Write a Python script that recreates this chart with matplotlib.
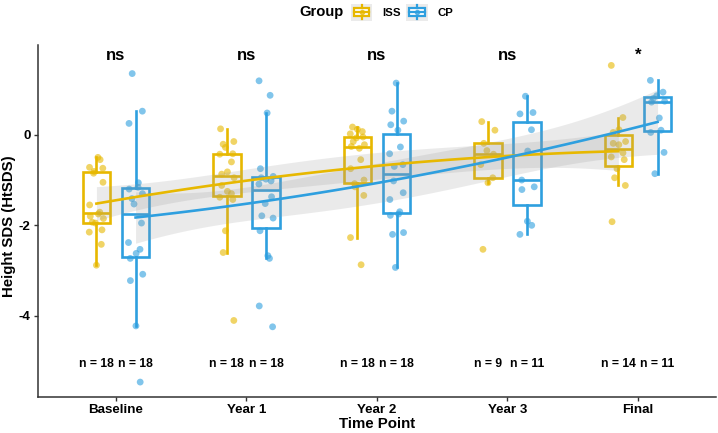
import numpy as np
import matplotlib
matplotlib.use('Agg')
import matplotlib.pyplot as plt
from matplotlib.patches import Rectangle
from matplotlib.lines import Line2D
from matplotlib.legend_handler import HandlerBase

plt.rcParams['font.family'] = ['Liberation Sans', 'DejaVu Sans']

# ---------------- data ----------------
time_points = ['Baseline', 'Year 1', 'Year 2', 'Year 3', 'Final']
groups = ['ISS', 'CP']
group_colors = ['#E7B800', '#2E9FDF']

iss_baseline = [-2.88, -2.42, -2.15, -2.10, -1.95, -1.93, -1.85, -1.80, -1.75, -1.71, -1.55, -1.05, -0.85, -0.81, -0.74, -0.72, -0.55, -0.50]
iss_year1 = [-4.10, -2.60, -2.12, -1.43, -1.38, -1.30, -1.25, -1.12, -0.95, -0.87, -0.82, -0.60, -0.43, -0.42, -0.28, -0.21, -0.15, 0.13]
iss_year2 = [-2.87, -2.27, -1.34, -1.15, -1.08, -1.00, -0.75, -0.55, -0.30, -0.26, -0.22, -0.15, -0.07, -0.05, 0.02, 0.07, 0.12, 0.17]
iss_year3 = [-2.53, -1.06, -0.95, -0.66, -0.43, -0.35, -0.19, 0.10, 0.29]
iss_final = [-1.92, -1.12, -0.95, -0.75, -0.55, -0.49, -0.40, -0.22, -0.19, -0.15, 0.05, 0.11, 0.38, 1.53]

cp_baseline = [-5.46, -4.22, -3.22, -3.08, -2.73, -2.62, -2.53, -2.38, -1.95, -1.53, -1.41, -1.30, -1.20, -1.16, -1.06, 0.25, 0.52, 1.35]
cp_year1 = [-4.24, -3.78, -2.73, -2.67, -2.12, -1.84, -1.79, -1.52, -1.37, -1.09, -1.02, -0.98, -0.95, -0.92, -0.75, 0.48, 0.87, 1.19]
cp_year2 = [-2.93, -2.20, -2.16, -1.78, -1.75, -1.70, -1.43, -1.28, -1.02, -0.70, -0.66, -0.42, -0.27, 0.10, 0.22, 0.30, 0.52, 1.14]
cp_year3 = [-2.20, -2.00, -1.91, -1.21, -1.15, -1.00, -0.36, 0.11, 0.46, 0.49, 0.85]
cp_final = [-0.86, -0.39, 0.05, 0.10, 0.37, 0.72, 0.74, 0.80, 0.86, 0.94, 1.20]

sig_labels = ['ns', 'ns', 'ns', 'ns', '*']
y_ticks = [0, -2, -4]

group_data = {
    'ISS': [iss_baseline, iss_year1, iss_year2, iss_year3, iss_final],
    'CP': [cp_baseline, cp_year1, cp_year2, cp_year3, cp_final],
}

# ---------------- helpers ----------------
def quad_smooth(x, y, xe, tcrit=1.99):
    x = np.asarray(x, float); y = np.asarray(y, float)
    X = np.column_stack([np.ones_like(x), x, x ** 2])
    XtX_inv = np.linalg.inv(X.T @ X)
    beta = XtX_inv @ X.T @ y
    resid = y - X @ beta
    s = np.sqrt(np.sum(resid ** 2) / (len(x) - 3))
    Xe = np.column_stack([np.ones_like(xe), xe, xe ** 2])
    fit = Xe @ beta
    se = s * np.sqrt(np.einsum('ij,jk,ik->i', Xe, XtX_inv, Xe))
    return fit, fit - tcrit * se, fit + tcrit * se


class BoxKey(HandlerBase):
    def create_artists(self, legend, orig, xd, yd, w, h, fontsize, trans):
        c = orig.get_color()
        x0, y0 = -xd, -yd
        arts = [Rectangle((x0, y0), w, h, facecolor='#EBEBEB', edgecolor='none', transform=trans)]
        bw, bh = w * 0.72, h * 0.5
        bx, by = x0 + (w - bw) / 2, y0 + (h - bh) / 2
        arts.append(Rectangle((bx, by), bw, bh, facecolor='white', edgecolor=c, lw=1.6, transform=trans))
        cx, cy = x0 + w / 2, y0 + h / 2
        arts.append(Line2D([bx, bx + bw], [cy, cy], color=c, lw=1.6, transform=trans))
        arts.append(Line2D([cx, cx], [y0 + h * 0.08, by], color=c, lw=1.6, transform=trans))
        arts.append(Line2D([cx, cx], [by + bh, y0 + h * 0.92], color=c, lw=1.6, transform=trans))
        arts.append(Line2D([cx], [cy], marker='o', ms=3, color=c, alpha=0.7, lw=0, transform=trans))
        return arts

# ---------------- figure ----------------
fig = plt.figure(figsize=(7.18, 4.33), dpi=100)
ax = fig.add_axes([0.0525, 0.0831, 0.9451, 0.8129])

dodge = 0.15
box_w = 0.21
xpos = np.arange(1, len(time_points) + 1)

for gi, (g, col) in enumerate(zip(groups, group_colors)):
    off = -dodge if gi == 0 else dodge
    data = group_data[g]
    pos = xpos + off
    ax.boxplot(data, positions=pos, widths=box_w, whis=1.5, showfliers=False,
               showcaps=False, patch_artist=True, manage_ticks=False,
               boxprops=dict(facecolor='white', edgecolor=col, linewidth=1.9),
               medianprops=dict(color=col, linewidth=1.9),
               whiskerprops=dict(color=col, linewidth=1.9), zorder=2)
    allx, ally = [], []
    for k, (p, vals) in enumerate(zip(pos, data)):
        n = len(vals)
        jit = 0.055 * np.sin(np.arange(n) * 2.39 + k * 1.3 + gi * 0.7)
        ax.scatter(p + jit, vals, s=24, color=col, alpha=0.6, edgecolors='none', zorder=3)
        allx += [p] * n
        ally += list(vals)
        ax.text(p, -5.07, f'n = {n}', ha='center', va='center', fontsize=8.7,
                fontweight='bold', color='black', zorder=5)
    allx = np.array(allx); ally = np.array(ally)
    xe = np.linspace(allx.min(), allx.max(), 80)
    fit, lo, hi = quad_smooth(allx, ally, xe)
    ax.fill_between(xe, lo, hi, color='#999999', alpha=0.2, linewidth=0, zorder=4)
    ax.plot(xe, fit, color=col, lw=1.9, zorder=4.5)

for x, lab in zip(xpos, sig_labels):
    ax.text(x, 1.645, lab, ha='center', va='baseline', fontsize=12, fontweight='bold',
            color='black', zorder=5)

ax.set_xlim(0.4, 5.6)
ax.set_ylim(-5.79, 1.98)
ax.set_xticks(xpos)
ax.set_xticklabels(time_points)
ax.set_yticks(y_ticks)
ax.set_yticklabels([str(t) for t in y_ticks])
for lab in ax.get_xticklabels() + ax.get_yticklabels():
    lab.set_fontweight('bold')
    lab.set_fontsize(9.6)
    lab.set_color('black')
ax.tick_params(axis='both', length=3, width=1, color='#333333', pad=2)
for s in ['top', 'right']:
    ax.spines[s].set_visible(False)
for s in ['left', 'bottom']:
    ax.spines[s].set_color('#333333')
    ax.spines[s].set_linewidth(1.1)

ax.set_xlabel('Time Point', fontsize=10.8, fontweight='bold')
ax.set_ylabel('Height SDS (HtSDS)', fontsize=10.8, fontweight='bold')
ax.xaxis.set_label_coords(0.5, -0.056)
ax.yaxis.set_label_coords(-0.032, 0.486)

handles = [Line2D([], [], color=c) for c in group_colors]
fig.legend(handles, groups, handler_map={Line2D: BoxKey()}, loc='center',
           bbox_to_anchor=(0.5600, 0.972), ncol=2, frameon=False,
           handlelength=1.9, handleheight=1.9, handletextpad=0.85,
           columnspacing=0.5, borderpad=0, prop=dict(weight='bold', size=8.2))
fig.text(322 / 718, 0.972, 'Group', ha='center', va='center', fontsize=10.6, fontweight='bold')

fig.savefig('out.png', dpi=100)
